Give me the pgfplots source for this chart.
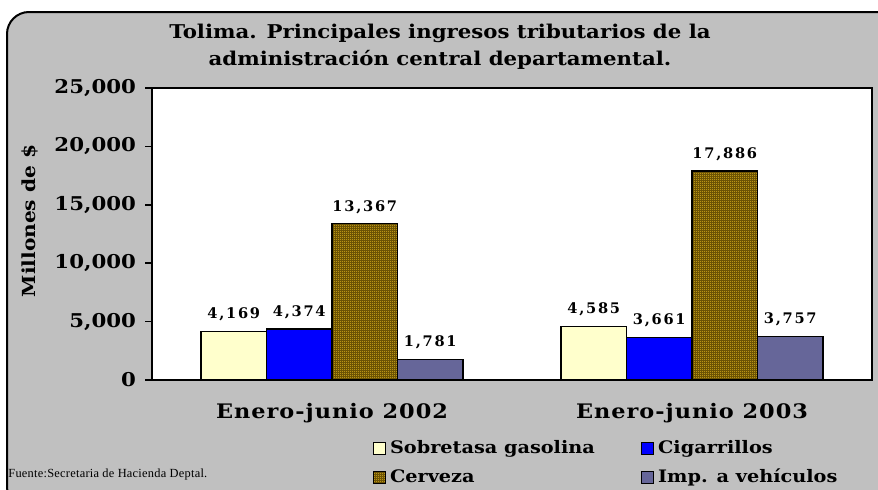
\documentclass[border=0pt]{standalone}
\usepackage{fontspec}
\setmainfont{DejaVu Serif}[FakeStretch=1.12]
\newfontfamily\datafont{DejaVu Serif}[LetterSpace=12]
\newfontfamily\xlabfont{DejaVu Serif}[FakeStretch=1.12, LetterSpace=5]
\newfontfamily\footfont{Liberation Serif}[LetterSpace=2]
\usepackage{pgfplots}
\pgfplotsset{compat=1.18}
\usetikzlibrary{patterns}
\definecolor{bggray}{HTML}{C0C0C0}
\definecolor{sobre}{HTML}{FFFFCC}
\definecolor{ciga}{HTML}{0000FF}
\definecolor{imp}{HTML}{666699}
\definecolor{cervdark}{HTML}{5A4400}
\definecolor{cervgold}{HTML}{EEC020}
\pgfdeclarepatternformonly{finecheck}{\pgfqpoint{0pt}{0pt}}{\pgfqpoint{1pt}{1pt}}{\pgfqpoint{1pt}{1pt}}{%
  \pgfpathrectangle{\pgfqpoint{0pt}{0pt}}{\pgfqpoint{0.5pt}{0.5pt}}%
  \pgfpathrectangle{\pgfqpoint{0.5pt}{0.5pt}}{\pgfqpoint{0.5pt}{0.5pt}}%
  \pgfusepath{fill}}
\begin{document}
\begin{tikzpicture}
\useasboundingbox (0pt,0pt) rectangle (439pt,244.5pt);
\begin{scope}
\clip (0pt,0pt) rectangle (439pt,244.5pt);
\draw[fill=bggray, line width=1pt, rounded corners=11pt] (3.5pt,238.5pt) rectangle (450pt,-10pt);
\end{scope}
\node[font=\bfseries\fontsize{9.5}{11}\selectfont, align=center] at (220pt,221pt) {Tolima. Principales ingresos tributarios de la\\[2.5pt] administración central departamental.};
\node[font=\bfseries\fontsize{9}{11}\selectfont, rotate=90] at (15pt,134pt) {Millones de \$};
\node[font=\footfont\fontsize{6.2}{7}\selectfont, anchor=west, inner sep=0pt] at (4pt,7pt) {Fuente:Secretaria de Hacienda Deptal.};
\begin{axis}[
  at={(76pt,54.5pt)}, anchor=south west,
  scale only axis, width=360pt, height=146pt,
  ybar=0pt, bar width=0.182,
  xmin=-0.5, xmax=1.5, ymin=0, ymax=25000,
  xtick={0,1}, xticklabels={Enero-junio 2002, Enero-junio 2003},
  major x tick style={draw=none},
  extra x ticks={-0.5,0.5,1.5}, extra x tick labels={},
  extra x tick style={major tick length=3pt, tick style={draw=black, line width=0.8pt}},
  ytick={0,5000,10000,15000,20000,25000},
  scaled y ticks=false,
  tick align=outside, major tick length=3.5pt,
  ytick pos=left, xtick pos=bottom,
  tick style={black, line width=0.8pt},
  axis line style={line width=1pt},
  axis background/.style={fill=white},
  /pgf/number format/.cd, 1000 sep={,}, assume math mode=true, /pgfplots/.cd,
  yticklabel style={font=\bfseries\fontsize{9.5}{11}\selectfont, xshift=-1pt},
  xticklabel style={font=\xlabfont\bfseries\fontsize{10}{12}\selectfont, yshift=-4.5pt},
  nodes near coords,
  every node near coord/.append style={font=\datafont\bfseries\fontsize{7.3}{9}\selectfont, yshift=1.5pt},
  legend columns=2,
  legend style={draw=none, fill=none, at={(0.298,-0.19)}, anchor=north west,
    font=\bfseries\fontsize{8.6}{10}\selectfont,
    nodes={inner sep=0pt, text height=7pt, text depth=2pt},
    row sep=5.5pt, cells={anchor=west}},
  legend image code/.code={\draw[#1, line width=0.5pt] (0pt,-3pt) rectangle (6pt,3pt); \path (8pt,0pt);},
]
\addplot[draw=black, line width=0.6pt, fill=sobre] coordinates {(0,4169) (1,4585)};
\addlegendentry{\makebox[125.5pt][l]{Sobretasa gasolina}}
\addplot[draw=black, line width=0.6pt, fill=ciga] coordinates {(0,4374) (1,3661)};
\addlegendentry{Cigarrillos}
\addplot[draw=black, line width=0.6pt, fill=cervdark, postaction={pattern=finecheck, pattern color=cervgold}] coordinates {(0,13367) (1,17886)};
\addlegendentry{\makebox[125.5pt][l]{Cerveza}}
\addplot[draw=black, line width=0.6pt, fill=imp] coordinates {(0,1781) (1,3757)};
\addlegendentry{Imp. a vehículos}
\end{axis}
\end{tikzpicture}
\end{document}
